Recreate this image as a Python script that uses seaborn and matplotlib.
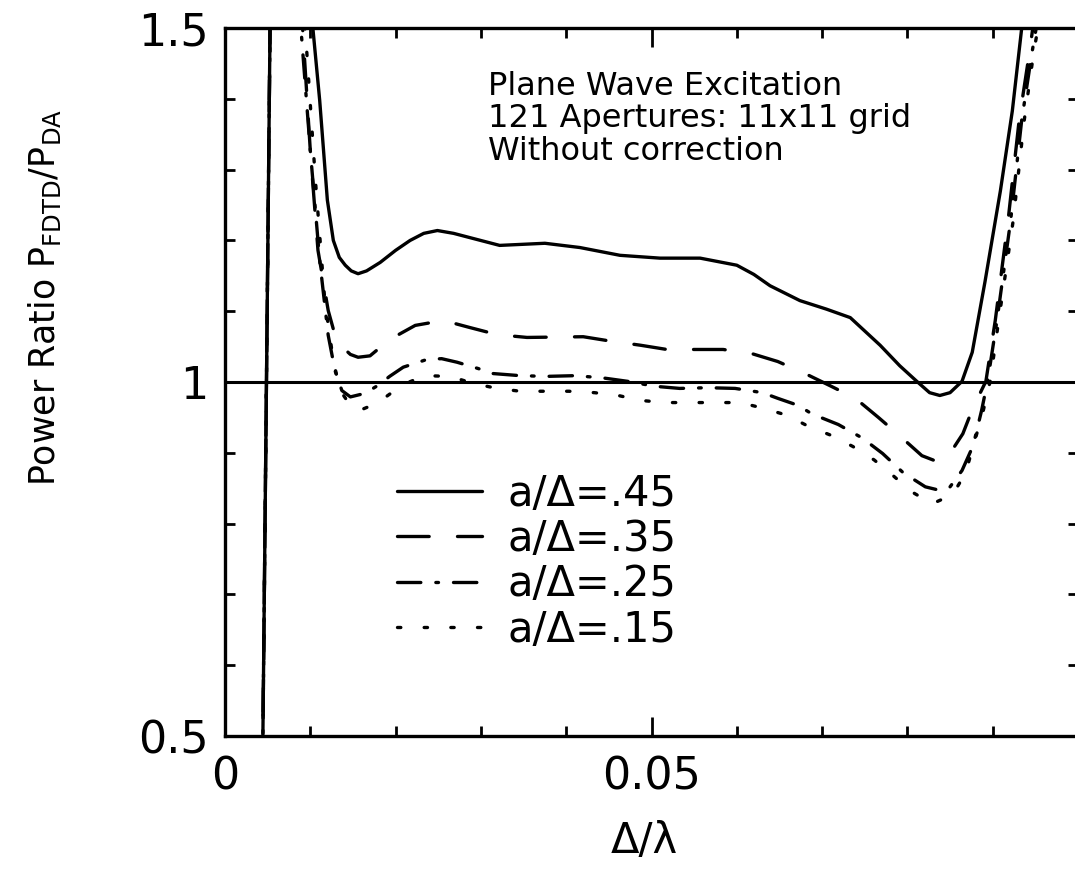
import matplotlib
matplotlib.use('Agg')
import matplotlib.pyplot as plt
import numpy as np
import pandas as pd
import seaborn as sns
from matplotlib.ticker import MultipleLocator, FixedLocator, FixedFormatter

# values (x = Delta/lambda, y = P_FDTD/P_DA)
x_45 = [0.0044, 0.0057, 0.0080, 0.0103, 0.0111, 0.0120, 0.0127, 0.0134, 0.0141, 0.0148, 0.0156,
        0.0166, 0.0182, 0.0200, 0.0217, 0.0233, 0.0249, 0.0268, 0.0287, 0.0322, 0.0375, 0.0416,
        0.0463, 0.0510, 0.0557, 0.0600, 0.0620, 0.0639, 0.0674, 0.0705, 0.0733, 0.0768, 0.0791,
        0.0811, 0.0826, 0.0838, 0.0850, 0.0864, 0.0876, 0.0891, 0.0909, 0.0923, 0.0934, 0.0945]
y_45 = [0.45, 2.0, 2.0, 1.500, 1.398, 1.257, 1.200, 1.176, 1.165, 1.157, 1.153,
        1.157, 1.169, 1.186, 1.200, 1.210, 1.214, 1.210, 1.204, 1.193, 1.196, 1.190,
        1.179, 1.175, 1.175, 1.165, 1.152, 1.136, 1.115, 1.103, 1.091, 1.052, 1.023,
        1.001, 0.985, 0.981, 0.985, 1.001, 1.042, 1.142, 1.270, 1.383, 1.500, 1.700]

x_35 = [0.0044, 0.0057, 0.0080, 0.0091, 0.0100, 0.0109, 0.0121, 0.0129, 0.0138, 0.0147, 0.0156,
        0.0170, 0.0193, 0.0223, 0.0256, 0.0287, 0.0319, 0.0354, 0.0420, 0.0451, 0.0487,
        0.0518, 0.0584, 0.0618, 0.0648, 0.0680, 0.0709, 0.0739, 0.0766, 0.0791, 0.0817,
        0.0832, 0.0846, 0.0865, 0.0877, 0.0892, 0.0903, 0.0918, 0.0931, 0.0943, 0.0947,
        0.0955]
y_35 = [0.45, 2.0, 2.0, 1.500, 1.327, 1.186, 1.101, 1.066, 1.049, 1.039, 1.035,
        1.037, 1.060, 1.080, 1.087, 1.077, 1.067, 1.063, 1.064, 1.058, 1.052,
        1.046, 1.046, 1.040, 1.029, 1.012, 0.995, 0.977, 0.950, 0.924, 0.896,
        0.889, 0.892, 0.927, 0.964, 1.001, 1.087, 1.228, 1.370, 1.465, 1.500,
        1.700]

x_25 = [0.0044, 0.0057, 0.0080, 0.0089, 0.0100, 0.0111, 0.0121, 0.0129, 0.0137, 0.0147,
        0.0164, 0.0179, 0.0193, 0.0209, 0.0237, 0.0254, 0.0272, 0.0297, 0.0314, 0.0346,
        0.0377, 0.0410, 0.0442, 0.0472, 0.0504, 0.0533, 0.0566, 0.0598, 0.0630, 0.0648,
        0.0672, 0.0688, 0.0719, 0.0747, 0.0771, 0.0795, 0.0821, 0.0838, 0.0850, 0.0864,
        0.0877, 0.0887, 0.0894, 0.0905, 0.0921, 0.0934, 0.0946, 0.0951, 0.0960]
y_25 = [0.45, 2.0, 2.0, 1.500, 1.327, 1.172, 1.066, 1.016, 0.988, 0.979,
        0.984, 0.995, 1.008, 1.021, 1.032, 1.033, 1.028, 1.019, 1.012, 1.009,
        1.008, 1.009, 1.006, 1.001, 0.994, 0.991, 0.992, 0.991, 0.985, 0.977,
        0.967, 0.955, 0.940, 0.921, 0.899, 0.872, 0.852, 0.847, 0.852, 0.875,
        0.910, 0.960, 1.001, 1.087, 1.228, 1.370, 1.465, 1.500, 1.700]

x_15 = [0.0044, 0.0057, 0.0080, 0.0094, 0.0106, 0.0117, 0.0127, 0.0135, 0.0147, 0.0158,
        0.0172, 0.0184, 0.0208, 0.0234, 0.0264, 0.0291, 0.0319, 0.0346, 0.0403, 0.0433,
        0.0461, 0.0487, 0.0517, 0.0604, 0.0631, 0.0659, 0.0683, 0.0712, 0.0736, 0.0761,
        0.0783, 0.0805, 0.0829, 0.0853, 0.0868, 0.0879, 0.0889, 0.0897, 0.0907, 0.0924,
        0.0937, 0.0948, 0.0953, 0.0962]
y_15 = [0.45, 2.0, 2.0, 1.500, 1.285, 1.115, 1.030, 0.988, 0.967, 0.960,
        0.967, 0.975, 0.996, 1.009, 1.008, 0.998, 0.991, 0.987, 0.987, 0.985,
        0.981, 0.974, 0.971, 0.971, 0.963, 0.953, 0.938, 0.924, 0.909, 0.890,
        0.868, 0.845, 0.828, 0.841, 0.871, 0.917, 0.960, 1.001, 1.087, 1.228,
        1.370, 1.465, 1.500, 1.700]

labels = ["a/\u0394=.45", "a/\u0394=.35", "a/\u0394=.25", "a/\u0394=.15"]
xs = [x_45, x_35, x_25, x_15]
ys = [y_45, y_35, y_25, y_15]
styles = ['-', (0, (9.5, 8.5)), (0, (7, 4.5, 0.8, 4.5)), (0, (1.0, 7.0))]

note = "Plane Wave Excitation\n121 Apertures: 11x11 grid\nWithout correction"

sns.set_style('ticks')
plt.rcParams['font.family'] = ['DejaVu Sans']
plt.rcParams['mathtext.fontset'] = 'dejavusans'
plt.rcParams['text.color'] = 'black'
plt.rcParams['axes.labelcolor'] = 'black'
plt.rcParams['xtick.color'] = 'black'
plt.rcParams['ytick.color'] = 'black'

fig = plt.figure(figsize=(10.75, 8.82), dpi=100)
ax = fig.add_axes([0.2093, 0.1655, 0.7935, 0.8027])

for xv, yv, lab, ls in zip(xs, ys, labels, styles):
    df = pd.DataFrame({'x': xv, 'y': yv})
    sns.lineplot(data=df, x='x', y='y', ax=ax, color='black', lw=2.4,
                 linestyle=ls, label=lab, estimator=None, sort=False,
                 dash_capstyle='round', solid_joinstyle='round')

ax.axhline(1.0, color='black', lw=2.2)

ax.set_xlim(0, 0.1)
ax.set_ylim(0.5, 1.5)
ax.xaxis.set_major_locator(FixedLocator([0, 0.05]))
ax.xaxis.set_major_formatter(FixedFormatter(['0', '0.05']))
ax.xaxis.set_minor_locator(MultipleLocator(0.01))
ax.yaxis.set_major_locator(FixedLocator([0.5, 1.0, 1.5]))
ax.yaxis.set_major_formatter(FixedFormatter(['0.5', '1', '1.5']))
ax.yaxis.set_minor_locator(MultipleLocator(0.1))
ax.tick_params(which='both', direction='in', top=True, right=True, width=2,
               color='black', labelcolor='black', labelsize=32)
ax.tick_params(which='major', length=14)
ax.tick_params(which='minor', length=7)
ax.tick_params(axis='y', pad=12)
ax.tick_params(axis='x', pad=14)
for s in ax.spines.values():
    s.set_linewidth(2.4)
    s.set_color('black')

ax.set_xlabel("\u0394/\u03bb", fontsize=30, color='black')
ax.xaxis.set_label_coords(0.492, -0.118)
ax.set_ylabel(r"Power Ratio P$_{\mathregular{FDTD}}$/P$_{\mathregular{DA}}$", fontsize=25,
              color='black')
ax.yaxis.set_label_coords(-0.19, 0.62)

ax.text(0.308, 0.94, note, transform=ax.transAxes, fontsize=23,
        va='top', ha='left', linespacing=1.07, color='black')

leg = ax.legend(loc='upper left', bbox_to_anchor=(0.2016, 0.372), frameon=False,
                fontsize=30, handlelength=2.05, handletextpad=0.6,
                labelspacing=0.08, borderpad=0, borderaxespad=0)
for t in leg.get_texts():
    t.set_color('black')

fig.savefig('out.png', dpi=100)
